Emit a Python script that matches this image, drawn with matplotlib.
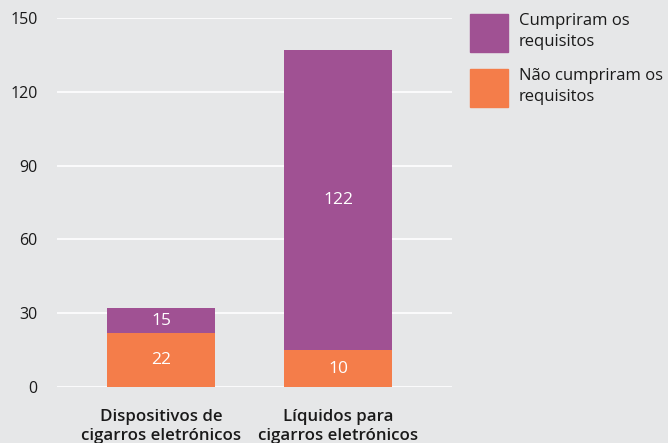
import matplotlib
matplotlib.use("Agg")
import matplotlib.pyplot as plt
from matplotlib.patches import Rectangle

categories = ["Dispositivos de\ncigarros eletrónicos", "Líquidos para\ncigarros eletrónicos"]
nao_cumpriram = [22, 15]
cumpriram = [10, 122]
nao_labels = ["22", "10"]
cumpriram_labels = ["15", "122"]
yticks = [0, 30, 60, 90, 120, 150]
legend_labels = ["Cumpriram os\nrequisitos", "Não cumpriram os\nrequisitos"]

bg = "#e6e7e8"
purple = "#a05193"
orange = "#f47d4a"
txt = "#1a1a1a"

plt.rcParams['font.family'] = ['Open Sans', 'DejaVu Sans']

fig = plt.figure(figsize=(6.68, 4.43), dpi=100, facecolor=bg)
ax = fig.add_axes([57/668, (443-387)/443, (452-57)/668, (387-18)/443])
ax.set_facecolor(bg)

x = [0, 1]
w = 0.61
ax.bar(x, nao_cumpriram, width=w, color=orange, zorder=3)
ax.bar(x, cumpriram, width=w, bottom=nao_cumpriram, color=purple, zorder=3)

for i in range(len(x)):
    ax.text(x[i], nao_cumpriram[i] / 2, nao_labels[i], ha="center", va="center",
            color="white", fontsize=12.5, zorder=4)
    ax.text(x[i], nao_cumpriram[i] + cumpriram[i] / 2, cumpriram_labels[i], ha="center",
            va="center", color="white", fontsize=12.5, zorder=4)

ax.set_xlim(-0.588, 1.644)
ax.set_ylim(0, 150)
ax.set_yticks(yticks)
ax.set_yticklabels([str(t) for t in yticks], fontsize=11.5, color=txt)
ax.set_xticks(x)
ax.set_xticklabels(categories, fontsize=12.2, fontweight="semibold", color=txt, linespacing=1.2)
ax.tick_params(axis="y", length=0, pad=14)
ax.tick_params(axis="x", length=0, pad=16)
ax.grid(axis="y", color="white", linewidth=1.2, zorder=0)
for s in ax.spines.values():
    s.set_visible(False)

# legend
colors = [purple, orange]
tops = [14, 69]
for lab, c, t in zip(legend_labels, colors, tops):
    fig.add_artist(Rectangle((470/668, (443-t-38)/443), 38/668, 38/443,
                             transform=fig.transFigure, color=c))
    fig.text(519/668, (443-t+1)/443, lab, ha="left", va="top", fontsize=12,
             color=txt, linespacing=1.45)

fig.savefig("out.png", dpi=100, facecolor=bg)
